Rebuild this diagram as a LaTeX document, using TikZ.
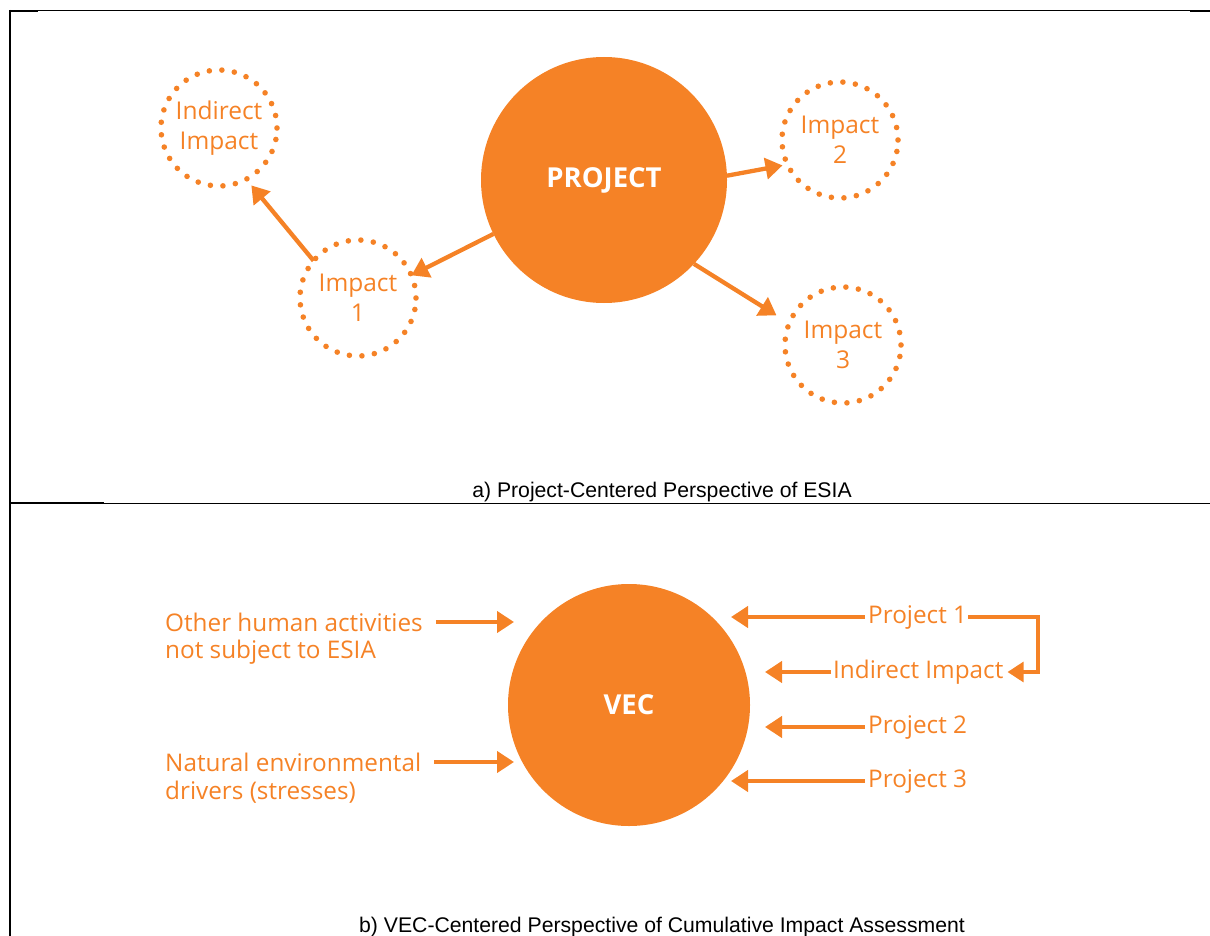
\documentclass[tikz,border=0pt]{standalone}
\usepackage{fontspec}
\setmainfont{Open Sans}
\newfontfamily\capfont{Liberation Sans}
\usetikzlibrary{arrows.meta}
\definecolor{org}{RGB}{245,130,38}
\tikzset{
  bigcirc/.style={circle,fill=org,inner sep=0pt,outer sep=0pt,text=white,font=\bfseries\fontsize{27.5}{30}\selectfont},
  dotcirc/.style={circle,draw=org,line width=5.6pt,dash pattern=on 0pt off 12.6pt,line cap=round,minimum size=116pt,inner sep=0pt,outer sep=0pt,text=org,align=center,font=\fontsize{24.5}{30}\selectfont},
  arr/.style={draw=org,line width=4.3pt,-{Triangle[length=17pt,width=21pt]}},
  otext/.style={text=org,inner sep=0pt,font=\fontsize{24.3}{30}\selectfont},
  captxt/.style={inner sep=0pt,font=\capfont\fontsize{21.2}{24}\selectfont},
}
\begin{document}
\begin{tikzpicture}[x=1pt,y=-1pt]
\useasboundingbox (0,0) rectangle (1210,936);
% frame
\draw[line width=1pt] (10,11) -- (1210,11);
\draw[line width=2.4pt] (10,11) -- (38,11);
\draw[line width=2.4pt] (1190,11) -- (1210,11);
\draw[line width=2.2pt] (10,10) -- (10,936);
\draw[line width=1pt] (10,503) -- (1210,503);
\draw[line width=2.4pt] (10,503) -- (104,503);
% part a
\node[bigcirc,minimum size=246pt] (P) at (604,180) {PROJECT};
\node[dotcirc] (II) at (219,128) {Indirect\\Impact};
\node[dotcirc] (I1) at (358,298) {Impact\\1};
\node[dotcirc] (I2) at (840,140) {Impact\\2};
\node[dotcirc] (I3) at (843,345) {Impact\\3};
\draw[arr] (P.206) -- (I1.23);
\draw[arr,shorten >=8pt] (I1.140) -- (II.-62);
\draw[arr,shorten >=5pt] (P.2) -- (I2.205);
\draw[arr,shorten >=15pt] (P.-43) -- (I3.158);
\node[captxt] (ca) at (662,492) {a) Project-Centered Perspective of ESIA};
% part b
\node[bigcirc,minimum size=242pt] (V) at (629,705) {VEC};
\node[otext,anchor=west] (o1) at (165,622) {Other human activities};
\node[otext,anchor=west] (o2) at (165,652) {not subject to ESIA};
\node[otext,anchor=west] (n1) at (165,762) {Natural environmental};
\node[otext,anchor=west] (n2) at (165,792) {drivers (stresses)};
\coordinate (t1) at (514,622);
\coordinate (t2) at (514,762);
\draw[arr] ([xshift=13pt]o1.east) -- (t1);
\draw[arr] ([xshift=13pt]n1.east) -- (t2);
\node[otext,anchor=west] (p1) at (868,617) {Project 1};
\node[otext,anchor=west] (ii) at (833,672) {Indirect Impact};
\node[otext,anchor=west] (p2) at (868,727) {Project 2};
\node[otext,anchor=west] (p3) at (868,781) {Project 3};
\coordinate (r1) at (731,617);
\coordinate (r2) at (765,672);
\coordinate (r3) at (765,727);
\coordinate (r4) at (731,781);
\coordinate (k1) at (1038,617);
\coordinate (k2) at (1038,672);
\draw[arr,shorten <=3pt] (p1.west) -- (r1);
\draw[arr,shorten <=2pt] (ii.west) -- (r2);
\draw[arr,shorten <=3pt] (p2.west) -- (r3);
\draw[arr,shorten <=3pt] (p3.west) -- (r4);
\draw[draw=org,line width=3.2pt,-{Triangle[length=16pt,width=20pt]},shorten <=1pt,shorten >=4pt] (p1.east) -- (k1) -- (k2) -- (ii.east);
\node[captxt] (cb) at (662,927) {b) VEC-Centered Perspective of Cumulative Impact Assessment};
\end{tikzpicture}
\end{document}
